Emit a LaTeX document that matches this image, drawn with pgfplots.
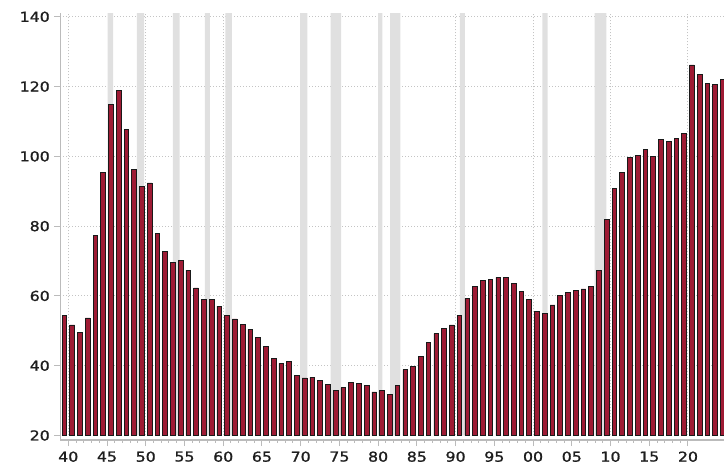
\documentclass[border=0pt]{standalone}
\usepackage{pgfplots}
\usepackage{pgfplotstable}
\pgfplotsset{compat=1.18}
\usepackage{fontspec}
\newfontfamily\labelfont[FakeStretch=1.15,FakeBold=1.2]{DejaVu Sans}
\definecolor{barred}{HTML}{9E1B34}
\definecolor{band}{HTML}{E0E0E0}
\definecolor{gridc}{HTML}{C4C4C4}
\definecolor{axisc}{HTML}{BBBBBB}
\definecolor{labc}{HTML}{1E1E1E}

\pgfplotstableread{
year val
1939 54.4
1940 51.7
1941 49.5
1942 53.7
1943 77.4
1944 95.4
1945 114.8
1946 118.8
1947 107.6
1948 96.3
1949 91.5
1950 92.4
1951 78.0
1952 72.7
1953 69.5
1954 70.2
1955 67.4
1956 62.3
1957 58.9
1958 59.1
1959 57.1
1960 54.4
1961 53.4
1962 51.9
1963 50.4
1964 48.0
1965 45.5
1966 42.2
1967 40.7
1968 41.3
1969 37.3
1970 36.5
1971 36.7
1972 35.8
1973 34.6
1974 32.8
1975 33.7
1976 35.3
1977 34.9
1978 34.3
1979 32.5
1980 32.8
1981 31.8
1982 34.3
1983 38.9
1984 39.8
1985 42.7
1986 46.7
1987 49.2
1988 50.6
1989 51.7
1990 54.5
1991 59.3
1992 62.7
1993 64.4
1994 64.8
1995 65.3
1996 65.3
1997 63.5
1998 61.3
1999 59.1
2000 55.6
2001 54.9
2002 57.4
2003 60.2
2004 61.0
2005 61.6
2006 62.0
2007 62.7
2008 67.4
2009 82.0
2010 90.8
2011 95.4
2012 99.7
2013 100.3
2014 102.1
2015 100.0
2016 104.9
2017 104.2
2018 105.2
2019 106.6
2020 126.2
2021 123.4
2022 121.0
2023 120.6
2024 122.1
}\debt

\begin{document}
\begin{tikzpicture}
\begin{axis}[
  name=ax,
  scale only axis,
  width=663.7bp, height=422.2bp,
  xmin=1938.97, xmax=2024.65,
  ymin=20, ymax=141,
  axis lines=left,
  axis line style={-, draw=axisc, line width=1.4bp},
  axis x line shift=4.5bp,
  y axis line style={shorten <=-4.5bp},
  tick align=outside,
  major tick length=6bp,
  minor tick length=3bp,
  every tick/.style={draw=axisc, line width=1bp},
  xtick={1940,1945,...,2020},
  xticklabels={40,45,50,55,60,65,70,75,80,85,90,95,00,05,10,15,20},
  minor x tick num=4,
  extra x ticks={1940,1950,...,2020},
  extra x tick labels={},
  extra x tick style={grid=major},
  ytick={40,60,...,140},
  extra y ticks={20},
  extra y tick style={grid=none},
  ymajorgrids=true,
  major grid style={draw=gridc, line width=1bp, dash pattern=on 1bp off 2bp},
  tick label style={font=\labelfont\fontsize{13.7bp}{16bp}\selectfont, text=labc},
  yticklabel style={xshift=-1bp},
  xticklabel style={yshift=-2bp},
  /pgf/number format/assume math mode=true,
  clip=true,
]
% recession bands
\addplot[fill=band, draw=none] coordinates {(1945.08,0) (1945.08,200) (1945.79,200) (1945.79,0)} \closedcycle;
\addplot[fill=band, draw=none] coordinates {(1948.87,0) (1948.87,200) (1949.79,200) (1949.79,0)} \closedcycle;
\addplot[fill=band, draw=none] coordinates {(1953.50,0) (1953.50,200) (1954.37,200) (1954.37,0)} \closedcycle;
\addplot[fill=band, draw=none] coordinates {(1957.62,0) (1957.62,200) (1958.29,200) (1958.29,0)} \closedcycle;
\addplot[fill=band, draw=none] coordinates {(1960.29,0) (1960.29,200) (1961.12,200) (1961.12,0)} \closedcycle;
\addplot[fill=band, draw=none] coordinates {(1969.92,0) (1969.92,200) (1970.87,200) (1970.87,0)} \closedcycle;
\addplot[fill=band, draw=none] coordinates {(1973.87,0) (1973.87,200) (1975.21,200) (1975.21,0)} \closedcycle;
\addplot[fill=band, draw=none] coordinates {(1980.00,0) (1980.00,200) (1980.54,200) (1980.54,0)} \closedcycle;
\addplot[fill=band, draw=none] coordinates {(1981.54,0) (1981.54,200) (1982.87,200) (1982.87,0)} \closedcycle;
\addplot[fill=band, draw=none] coordinates {(1990.54,0) (1990.54,200) (1991.21,200) (1991.21,0)} \closedcycle;
\addplot[fill=band, draw=none] coordinates {(2001.21,0) (2001.21,200) (2001.87,200) (2001.87,0)} \closedcycle;
\addplot[fill=band, draw=none] coordinates {(2007.96,0) (2007.96,200) (2009.46,200) (2009.46,0)} \closedcycle;
% bars
\addplot[ybar, bar width=4.7bp, fill=barred, draw=black!90, line width=0.7bp]
  table[x expr=\thisrow{year}+0.5, y=val] {\debt};
\end{axis}
\pgfresetboundingbox
\path[use as bounding box] ([xshift=-60.3bp,yshift=-31.5bp]ax.south west) rectangle ([yshift=13.3bp]ax.north east);
\end{tikzpicture}
\end{document}
